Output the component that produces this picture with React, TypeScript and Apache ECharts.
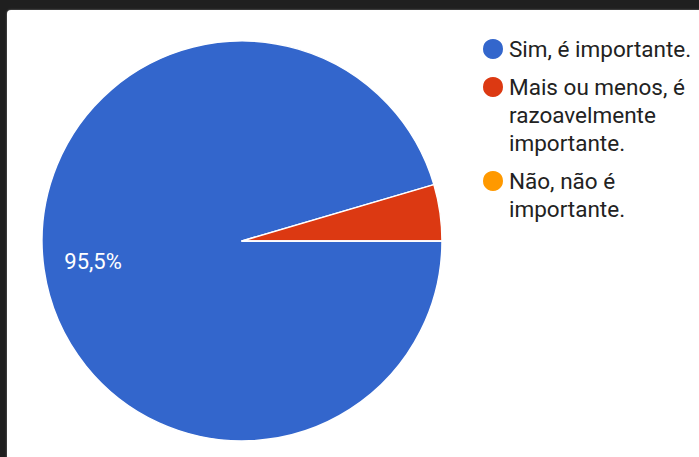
import React, { useEffect, useRef } from "react";
import * as echarts from "echarts";

const categories = [
  "Sim, é importante.",
  "Mais ou menos, é razoavelmente importante.",
  "Não, não é importante.",
];
const legendLines = [
  ["Sim, é importante."],
  ["Mais ou menos, é", "razoavelmente", "importante."],
  ["Não, não é", "importante."],
];
const responses = [21, 1, 0];
const colors = ["#3366cc", "#dc3912", "#ff9900"];

const LINE = 28;
// vertical centre of each legend icon (layout only)
const legendIconY = [50, 88, 182];

function legendText(i: number) {
  const n = legendLines[i].length;
  const b = n - 1;
  const out: string[] = [];
  for (let k = 0; k < b; k++) out.push("");
  out.push(...legendLines[i]);
  return out.join("\n");
}

export default function App() {
  const ref = useRef<HTMLDivElement>(null);
  useEffect(() => {
    if (!ref.current) return;
    const chart = echarts.init(ref.current, null, { renderer: "svg" });
    const legends = categories.map((name, i) => ({
      orient: "vertical",
      left: 481,
      top: legendIconY[i] - 15 - (legendLines[i].length - 1) * LINE,
      padding: 0,
      itemWidth: 22,
      itemHeight: 22,
      icon: "circle",
      selectedMode: false,
      data: [name],
      formatter: (nm: string) => legendText(categories.indexOf(nm)),
      textStyle: {
        fontFamily: "Roboto",
        fontSize: 22.5,
        lineHeight: LINE,
        color: "#222222",
      },
    }));
    chart.setOption({
      animation: false,
      color: colors,
      legend: legends,
      series: [
        {
          type: "pie",
          center: [242, 241],
          radius: [0, 200],
          startAngle: 0,
          clockwise: true,
          percentPrecision: 1,
          itemStyle: { borderColor: "#ffffff", borderWidth: 1.5 },
          label: {
            show: true,
            position: "inside",
            color: "#ffffff",
            fontFamily: "Roboto",
            fontSize: 22,
            formatter: (p: any) => p.percent.toFixed(1).replace(".", ",") + "%",
          },
          labelLine: { show: false },
          labelLayout: { dx: -47, dy: 6 },
          emphasis: { disabled: true },
          data: categories.map((name, i) => ({
            name,
            value: responses[i],
            label: { show: i === 0 },
          })),
        },
      ],
    });
    return () => chart.dispose();
  }, []);
  return (
    <div style={{ position: "fixed", left: 0, top: 0, width: 699, height: 457, background: "#1f1f1f", overflow: "hidden" }}>
      <div style={{ position: "absolute", left: 7, top: 10, width: 720, height: 480, background: "#ffffff", borderTopLeftRadius: 4, boxShadow: "0 0 2px #888" }} />
      <div ref={ref} style={{ position: "absolute", left: 0, top: 0, width: 699, height: 457 }} />
    </div>
  );
}
